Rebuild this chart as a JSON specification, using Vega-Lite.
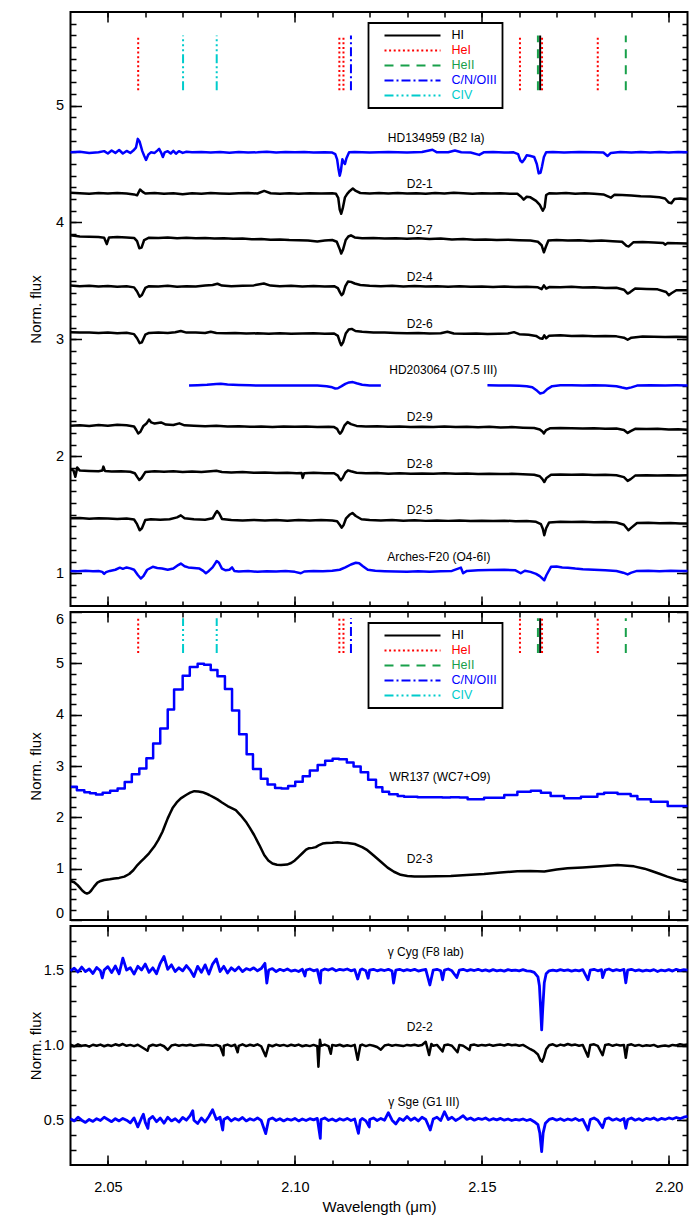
{
"$schema": "https://vega.github.io/schema/vega-lite/v6.json",
"background": "white",
"padding": {"left": 27.5, "top": 10, "right": 5, "bottom": 5},
"config": {
  "font": "Liberation Sans",
  "view": {"stroke": "black", "strokeWidth": 2},
  "axis": {"domain": false, "grid": false, "tickColor": "black", "tickWidth": 1.5, "labelColor": "black", "labelFont": "Liberation Sans", "labelFontSize": 14.5, "titleFont": "Liberation Sans", "titleFontSize": 15, "titleFontWeight": "normal", "titleColor": "black", "labelFlush": false},
  "text": {"font": "Liberation Sans", "fontSize": 12, "color": "black"},
  "line": {"strokeJoin": "round"}
},
"datasets": {
"lines": [
{"species":"HeI","wl":2.0581},{"species":"CIV","wl":2.0701},{"species":"CIV","wl":2.0791},{"species":"HeI","wl":2.1119},{"species":"HeI","wl":2.1130},{"species":"C/N/OIII","wl":2.1150},{"species":"HeI","wl":2.1602},{"species":"HeII","wl":2.1650},{"species":"HI","wl":2.1656},{"species":"HeI","wl":2.1661},{"species":"HeI","wl":2.1810},{"species":"HeII","wl":2.1885}
],
"labels1": [
{"label":"HD134959 (B2 Ia)","x":2.1378,"y":4.726},
{"label":"D2-1","x":2.1334,"y":4.331},
{"label":"D2-7","x":2.1334,"y":3.932},
{"label":"D2-4","x":2.1334,"y":3.532},
{"label":"D2-6","x":2.1334,"y":3.134},
{"label":"HD203064 (O7.5 III)","x":2.1397,"y":2.735},
{"label":"D2-9","x":2.1334,"y":2.336},
{"label":"D2-8","x":2.1334,"y":1.938},
{"label":"D2-5","x":2.1334,"y":1.538},
{"label":"Arches-F20 (O4-6I)","x":2.1385,"y":1.139}
],
"labels2": [
{"label":"WR137 (WC7+O9)","x":2.1388,"y":2.792},
{"label":"D2-3","x":2.1334,"y":1.183}
],
"labels3a": [
{"label":"γ Cyg (F8 Iab)","x":2.1350,"y":1.624},
{"label":"γ Sge (G1 III)","x":2.1345,"y":0.624}
],
"labels3b": [
{"label":"D2-2","x":2.1334,"y":1.122}
],
"HD134959": [
{"x":2.0400,"y":4.600},{"x":2.0425,"y":4.605},{"x":2.0450,"y":4.595},{"x":2.0475,"y":4.600},{"x":2.0490,"y":4.610},{"x":2.0500,"y":4.590},{"x":2.0510,"y":4.615},{"x":2.0520,"y":4.595},{"x":2.0530,"y":4.620},{"x":2.0540,"y":4.590},{"x":2.0550,"y":4.612},{"x":2.0560,"y":4.595},{"x":2.0568,"y":4.615},{"x":2.0575,"y":4.640},{"x":2.0580,"y":4.715},{"x":2.0585,"y":4.690},{"x":2.0592,"y":4.610},{"x":2.0597,"y":4.570},{"x":2.0602,"y":4.535},{"x":2.0608,"y":4.580},{"x":2.0615,"y":4.600},{"x":2.0625,"y":4.595},{"x":2.0632,"y":4.615},{"x":2.0637,"y":4.630},{"x":2.0642,"y":4.600},{"x":2.0647,"y":4.560},{"x":2.0652,"y":4.600},{"x":2.0660,"y":4.610},{"x":2.0668,"y":4.590},{"x":2.0675,"y":4.612},{"x":2.0682,"y":4.588},{"x":2.0690,"y":4.610},{"x":2.0700,"y":4.595},{"x":2.0710,"y":4.605},{"x":2.0725,"y":4.600},{"x":2.0750,"y":4.603},{"x":2.0775,"y":4.598},{"x":2.0800,"y":4.602},{"x":2.0825,"y":4.597},{"x":2.0850,"y":4.603},{"x":2.0875,"y":4.598},{"x":2.0900,"y":4.600},{"x":2.0925,"y":4.605},{"x":2.0950,"y":4.598},{"x":2.0975,"y":4.602},{"x":2.1000,"y":4.600},{"x":2.1025,"y":4.603},{"x":2.1050,"y":4.598},{"x":2.1080,"y":4.600},{"x":2.1100,"y":4.598},{"x":2.1108,"y":4.585},{"x":2.1113,"y":4.540},{"x":2.1117,"y":4.450},{"x":2.1120,"y":4.400},{"x":2.1123,"y":4.440},{"x":2.1127,"y":4.540},{"x":2.1130,"y":4.520},{"x":2.1134,"y":4.500},{"x":2.1138,"y":4.550},{"x":2.1145,"y":4.600},{"x":2.1160,"y":4.603},{"x":2.1200,"y":4.598},{"x":2.1250,"y":4.602},{"x":2.1300,"y":4.598},{"x":2.1340,"y":4.603},{"x":2.1368,"y":4.622},{"x":2.1380,"y":4.600},{"x":2.1410,"y":4.600},{"x":2.1428,"y":4.615},{"x":2.1445,"y":4.600},{"x":2.1470,"y":4.598},{"x":2.1493,"y":4.578},{"x":2.1505,"y":4.600},{"x":2.1530,"y":4.602},{"x":2.1560,"y":4.598},{"x":2.1585,"y":4.600},{"x":2.1597,"y":4.585},{"x":2.1603,"y":4.530},{"x":2.1608,"y":4.515},{"x":2.1614,"y":4.540},{"x":2.1620,"y":4.575},{"x":2.1628,"y":4.570},{"x":2.1640,"y":4.560},{"x":2.1647,"y":4.500},{"x":2.1652,"y":4.420},{"x":2.1657,"y":4.425},{"x":2.1661,"y":4.480},{"x":2.1666,"y":4.560},{"x":2.1672,"y":4.600},{"x":2.1690,"y":4.603},{"x":2.1720,"y":4.598},{"x":2.1760,"y":4.602},{"x":2.1800,"y":4.600},{"x":2.1825,"y":4.598},{"x":2.1836,"y":4.568},{"x":2.1845,"y":4.595},{"x":2.1870,"y":4.602},{"x":2.1900,"y":4.598},{"x":2.1925,"y":4.602},{"x":2.1950,"y":4.598},{"x":2.1975,"y":4.603},{"x":2.2000,"y":4.598},{"x":2.2025,"y":4.602},{"x":2.2050,"y":4.600}
],
"D2-1": [
{"x":2.0400,"y":4.255},{"x":2.0425,"y":4.250},{"x":2.0450,"y":4.245},{"x":2.0475,"y":4.252},{"x":2.0500,"y":4.248},{"x":2.0525,"y":4.252},{"x":2.0550,"y":4.247},{"x":2.0570,"y":4.240},{"x":2.0578,"y":4.232},{"x":2.0586,"y":4.282},{"x":2.0593,"y":4.262},{"x":2.0600,"y":4.248},{"x":2.0625,"y":4.252},{"x":2.0650,"y":4.245},{"x":2.0675,"y":4.250},{"x":2.0700,"y":4.242},{"x":2.0725,"y":4.250},{"x":2.0750,"y":4.245},{"x":2.0775,"y":4.252},{"x":2.0800,"y":4.248},{"x":2.0825,"y":4.245},{"x":2.0850,"y":4.250},{"x":2.0875,"y":4.252},{"x":2.0900,"y":4.248},{"x":2.0918,"y":4.270},{"x":2.0935,"y":4.250},{"x":2.0960,"y":4.246},{"x":2.0985,"y":4.250},{"x":2.1010,"y":4.245},{"x":2.1040,"y":4.250},{"x":2.1070,"y":4.247},{"x":2.1100,"y":4.250},{"x":2.1110,"y":4.245},{"x":2.1116,"y":4.210},{"x":2.1120,"y":4.110},{"x":2.1124,"y":4.075},{"x":2.1128,"y":4.120},{"x":2.1134,"y":4.215},{"x":2.1140,"y":4.245},{"x":2.1147,"y":4.270},{"x":2.1155,"y":4.290},{"x":2.1163,"y":4.270},{"x":2.1175,"y":4.252},{"x":2.1200,"y":4.248},{"x":2.1225,"y":4.252},{"x":2.1250,"y":4.247},{"x":2.1275,"y":4.252},{"x":2.1300,"y":4.248},{"x":2.1325,"y":4.250},{"x":2.1350,"y":4.245},{"x":2.1375,"y":4.252},{"x":2.1400,"y":4.248},{"x":2.1425,"y":4.255},{"x":2.1450,"y":4.250},{"x":2.1475,"y":4.245},{"x":2.1500,"y":4.250},{"x":2.1525,"y":4.248},{"x":2.1550,"y":4.250},{"x":2.1575,"y":4.245},{"x":2.1595,"y":4.245},{"x":2.1605,"y":4.220},{"x":2.1612,"y":4.195},{"x":2.1620,"y":4.220},{"x":2.1630,"y":4.215},{"x":2.1645,"y":4.185},{"x":2.1655,"y":4.150},{"x":2.1663,"y":4.100},{"x":2.1668,"y":4.130},{"x":2.1672,"y":4.235},{"x":2.1680,"y":4.250},{"x":2.1700,"y":4.248},{"x":2.1725,"y":4.252},{"x":2.1750,"y":4.245},{"x":2.1775,"y":4.250},{"x":2.1800,"y":4.245},{"x":2.1825,"y":4.240},{"x":2.1845,"y":4.212},{"x":2.1855,"y":4.238},{"x":2.1875,"y":4.235},{"x":2.1900,"y":4.230},{"x":2.1925,"y":4.225},{"x":2.1950,"y":4.222},{"x":2.1975,"y":4.215},{"x":2.1990,"y":4.205},{"x":2.2000,"y":4.170},{"x":2.2007,"y":4.165},{"x":2.2015,"y":4.200},{"x":2.2030,"y":4.205},{"x":2.2050,"y":4.200}
],
"D2-7": [
{"x":2.0400,"y":3.890},{"x":2.0425,"y":3.880},{"x":2.0450,"y":3.878},{"x":2.0475,"y":3.875},{"x":2.0490,"y":3.870},{"x":2.0497,"y":3.815},{"x":2.0503,"y":3.872},{"x":2.0525,"y":3.875},{"x":2.0550,"y":3.872},{"x":2.0570,"y":3.868},{"x":2.0578,"y":3.840},{"x":2.0584,"y":3.780},{"x":2.0590,"y":3.785},{"x":2.0597,"y":3.850},{"x":2.0610,"y":3.870},{"x":2.0635,"y":3.868},{"x":2.0660,"y":3.872},{"x":2.0685,"y":3.866},{"x":2.0710,"y":3.870},{"x":2.0735,"y":3.865},{"x":2.0760,"y":3.868},{"x":2.0785,"y":3.862},{"x":2.0810,"y":3.865},{"x":2.0835,"y":3.860},{"x":2.0860,"y":3.862},{"x":2.0885,"y":3.856},{"x":2.0910,"y":3.858},{"x":2.0935,"y":3.852},{"x":2.0960,"y":3.855},{"x":2.0985,"y":3.850},{"x":2.1010,"y":3.848},{"x":2.1035,"y":3.845},{"x":2.1060,"y":3.838},{"x":2.1080,"y":3.845},{"x":2.1100,"y":3.850},{"x":2.1112,"y":3.835},{"x":2.1119,"y":3.780},{"x":2.1124,"y":3.735},{"x":2.1129,"y":3.770},{"x":2.1136,"y":3.850},{"x":2.1143,"y":3.880},{"x":2.1150,"y":3.890},{"x":2.1160,"y":3.872},{"x":2.1180,"y":3.865},{"x":2.1210,"y":3.868},{"x":2.1240,"y":3.862},{"x":2.1270,"y":3.866},{"x":2.1300,"y":3.860},{"x":2.1330,"y":3.865},{"x":2.1360,"y":3.858},{"x":2.1390,"y":3.862},{"x":2.1420,"y":3.855},{"x":2.1450,"y":3.858},{"x":2.1480,"y":3.852},{"x":2.1510,"y":3.855},{"x":2.1540,"y":3.850},{"x":2.1570,"y":3.852},{"x":2.1600,"y":3.848},{"x":2.1630,"y":3.845},{"x":2.1650,"y":3.835},{"x":2.1660,"y":3.805},{"x":2.1666,"y":3.745},{"x":2.1671,"y":3.790},{"x":2.1678,"y":3.845},{"x":2.1700,"y":3.850},{"x":2.1730,"y":3.845},{"x":2.1760,"y":3.848},{"x":2.1790,"y":3.842},{"x":2.1820,"y":3.845},{"x":2.1850,"y":3.840},{"x":2.1875,"y":3.835},{"x":2.1887,"y":3.800},{"x":2.1893,"y":3.795},{"x":2.1905,"y":3.830},{"x":2.1930,"y":3.832},{"x":2.1960,"y":3.828},{"x":2.1985,"y":3.825},{"x":2.1990,"y":3.810},{"x":2.1997,"y":3.825},{"x":2.2020,"y":3.822},{"x":2.2050,"y":3.820}
],
"D2-4": [
{"x":2.0400,"y":3.460},{"x":2.0425,"y":3.455},{"x":2.0450,"y":3.458},{"x":2.0475,"y":3.452},{"x":2.0500,"y":3.456},{"x":2.0525,"y":3.450},{"x":2.0550,"y":3.455},{"x":2.0570,"y":3.445},{"x":2.0578,"y":3.410},{"x":2.0585,"y":3.365},{"x":2.0591,"y":3.380},{"x":2.0600,"y":3.440},{"x":2.0610,"y":3.455},{"x":2.0635,"y":3.452},{"x":2.0660,"y":3.458},{"x":2.0685,"y":3.450},{"x":2.0710,"y":3.455},{"x":2.0735,"y":3.452},{"x":2.0760,"y":3.460},{"x":2.0780,"y":3.465},{"x":2.0793,"y":3.476},{"x":2.0805,"y":3.460},{"x":2.0830,"y":3.455},{"x":2.0860,"y":3.458},{"x":2.0890,"y":3.462},{"x":2.0917,"y":3.478},{"x":2.0935,"y":3.460},{"x":2.0960,"y":3.455},{"x":2.0990,"y":3.458},{"x":2.1020,"y":3.452},{"x":2.1050,"y":3.456},{"x":2.1080,"y":3.452},{"x":2.1105,"y":3.455},{"x":2.1115,"y":3.438},{"x":2.1121,"y":3.400},{"x":2.1125,"y":3.378},{"x":2.1129,"y":3.392},{"x":2.1135,"y":3.455},{"x":2.1142,"y":3.495},{"x":2.1150,"y":3.492},{"x":2.1160,"y":3.478},{"x":2.1175,"y":3.465},{"x":2.1200,"y":3.458},{"x":2.1230,"y":3.455},{"x":2.1260,"y":3.458},{"x":2.1290,"y":3.452},{"x":2.1320,"y":3.456},{"x":2.1350,"y":3.452},{"x":2.1380,"y":3.455},{"x":2.1410,"y":3.450},{"x":2.1440,"y":3.454},{"x":2.1470,"y":3.450},{"x":2.1500,"y":3.453},{"x":2.1530,"y":3.448},{"x":2.1560,"y":3.452},{"x":2.1590,"y":3.448},{"x":2.1620,"y":3.450},{"x":2.1650,"y":3.445},{"x":2.1660,"y":3.430},{"x":2.1666,"y":3.462},{"x":2.1672,"y":3.435},{"x":2.1680,"y":3.448},{"x":2.1710,"y":3.446},{"x":2.1740,"y":3.450},{"x":2.1770,"y":3.444},{"x":2.1800,"y":3.446},{"x":2.1830,"y":3.440},{"x":2.1860,"y":3.442},{"x":2.1880,"y":3.425},{"x":2.1890,"y":3.392},{"x":2.1897,"y":3.405},{"x":2.1910,"y":3.435},{"x":2.1940,"y":3.432},{"x":2.1970,"y":3.428},{"x":2.1993,"y":3.405},{"x":2.2000,"y":3.378},{"x":2.2007,"y":3.395},{"x":2.2020,"y":3.420},{"x":2.2050,"y":3.420}
],
"D2-6": [
{"x":2.0400,"y":3.062},{"x":2.0425,"y":3.058},{"x":2.0450,"y":3.060},{"x":2.0475,"y":3.055},{"x":2.0500,"y":3.058},{"x":2.0525,"y":3.052},{"x":2.0550,"y":3.056},{"x":2.0570,"y":3.045},{"x":2.0578,"y":3.010},{"x":2.0585,"y":2.968},{"x":2.0591,"y":2.975},{"x":2.0600,"y":3.040},{"x":2.0610,"y":3.055},{"x":2.0635,"y":3.058},{"x":2.0660,"y":3.055},{"x":2.0680,"y":3.062},{"x":2.0695,"y":3.072},{"x":2.0710,"y":3.058},{"x":2.0735,"y":3.060},{"x":2.0760,"y":3.055},{"x":2.0775,"y":3.065},{"x":2.0790,"y":3.055},{"x":2.0815,"y":3.052},{"x":2.0840,"y":3.055},{"x":2.0870,"y":3.050},{"x":2.0900,"y":3.052},{"x":2.0930,"y":3.048},{"x":2.0960,"y":3.052},{"x":2.0990,"y":3.048},{"x":2.1020,"y":3.050},{"x":2.1050,"y":3.052},{"x":2.1080,"y":3.048},{"x":2.1105,"y":3.050},{"x":2.1115,"y":3.030},{"x":2.1120,"y":2.980},{"x":2.1124,"y":2.950},{"x":2.1129,"y":2.975},{"x":2.1136,"y":3.050},{"x":2.1144,"y":3.085},{"x":2.1152,"y":3.090},{"x":2.1162,"y":3.072},{"x":2.1180,"y":3.065},{"x":2.1210,"y":3.060},{"x":2.1240,"y":3.058},{"x":2.1270,"y":3.055},{"x":2.1300,"y":3.052},{"x":2.1330,"y":3.055},{"x":2.1360,"y":3.050},{"x":2.1390,"y":3.052},{"x":2.1408,"y":3.065},{"x":2.1425,"y":3.050},{"x":2.1455,"y":3.048},{"x":2.1485,"y":3.050},{"x":2.1515,"y":3.046},{"x":2.1545,"y":3.048},{"x":2.1570,"y":3.050},{"x":2.1586,"y":3.062},{"x":2.1600,"y":3.045},{"x":2.1625,"y":3.040},{"x":2.1645,"y":3.030},{"x":2.1655,"y":3.010},{"x":2.1662,"y":3.005},{"x":2.1667,"y":3.035},{"x":2.1672,"y":3.010},{"x":2.1680,"y":3.032},{"x":2.1710,"y":3.035},{"x":2.1740,"y":3.030},{"x":2.1770,"y":3.032},{"x":2.1800,"y":3.028},{"x":2.1830,"y":3.030},{"x":2.1860,"y":3.026},{"x":2.1880,"y":3.015},{"x":2.1890,"y":2.997},{"x":2.1900,"y":3.015},{"x":2.1930,"y":3.025},{"x":2.1960,"y":3.022},{"x":2.1990,"y":3.020},{"x":2.2020,"y":3.022},{"x":2.2050,"y":3.020}
],
"HD203064": [
{"seg":"a","x":2.0717,"y":2.605},{"seg":"a","x":2.0740,"y":2.608},{"seg":"a","x":2.0765,"y":2.612},{"seg":"a","x":2.0790,"y":2.618},{"seg":"a","x":2.0802,"y":2.620},{"seg":"a","x":2.0820,"y":2.615},{"seg":"a","x":2.0850,"y":2.610},{"seg":"a","x":2.0880,"y":2.607},{"seg":"a","x":2.0910,"y":2.606},{"seg":"a","x":2.0940,"y":2.605},{"seg":"a","x":2.0970,"y":2.606},{"seg":"a","x":2.1000,"y":2.605},{"seg":"a","x":2.1030,"y":2.606},{"seg":"a","x":2.1060,"y":2.605},{"seg":"a","x":2.1085,"y":2.600},{"seg":"a","x":2.1100,"y":2.590},{"seg":"a","x":2.1108,"y":2.580},{"seg":"a","x":2.1115,"y":2.582},{"seg":"a","x":2.1125,"y":2.600},{"seg":"a","x":2.1135,"y":2.620},{"seg":"a","x":2.1145,"y":2.632},{"seg":"a","x":2.1155,"y":2.635},{"seg":"a","x":2.1165,"y":2.625},{"seg":"a","x":2.1180,"y":2.612},{"seg":"a","x":2.1200,"y":2.606},{"seg":"a","x":2.1230,"y":2.605},
{"seg":"b","x":2.1515,"y":2.607},{"seg":"b","x":2.1545,"y":2.606},{"seg":"b","x":2.1575,"y":2.605},{"seg":"b","x":2.1600,"y":2.604},{"seg":"b","x":2.1620,"y":2.600},{"seg":"b","x":2.1635,"y":2.590},{"seg":"b","x":2.1648,"y":2.560},{"seg":"b","x":2.1656,"y":2.537},{"seg":"b","x":2.1665,"y":2.545},{"seg":"b","x":2.1675,"y":2.575},{"seg":"b","x":2.1688,"y":2.600},{"seg":"b","x":2.1710,"y":2.607},{"seg":"b","x":2.1740,"y":2.608},{"seg":"b","x":2.1770,"y":2.606},{"seg":"b","x":2.1800,"y":2.607},{"seg":"b","x":2.1830,"y":2.605},{"seg":"b","x":2.1860,"y":2.600},{"seg":"b","x":2.1875,"y":2.588},{"seg":"b","x":2.1887,"y":2.580},{"seg":"b","x":2.1900,"y":2.590},{"seg":"b","x":2.1915,"y":2.605},{"seg":"b","x":2.1950,"y":2.607},{"seg":"b","x":2.1990,"y":2.606},{"seg":"b","x":2.2020,"y":2.607},{"seg":"b","x":2.2050,"y":2.606}
],
"D2-9": [
{"x":2.0400,"y":2.262},{"x":2.0425,"y":2.265},{"x":2.0450,"y":2.260},{"x":2.0475,"y":2.268},{"x":2.0500,"y":2.262},{"x":2.0525,"y":2.270},{"x":2.0550,"y":2.265},{"x":2.0570,"y":2.255},{"x":2.0576,"y":2.225},{"x":2.0581,"y":2.195},{"x":2.0587,"y":2.210},{"x":2.0595,"y":2.260},{"x":2.0603,"y":2.280},{"x":2.0610,"y":2.314},{"x":2.0616,"y":2.290},{"x":2.0625,"y":2.280},{"x":2.0642,"y":2.290},{"x":2.0655,"y":2.272},{"x":2.0675,"y":2.268},{"x":2.0691,"y":2.282},{"x":2.0705,"y":2.265},{"x":2.0730,"y":2.262},{"x":2.0760,"y":2.258},{"x":2.0790,"y":2.262},{"x":2.0820,"y":2.255},{"x":2.0850,"y":2.258},{"x":2.0880,"y":2.252},{"x":2.0910,"y":2.255},{"x":2.0940,"y":2.250},{"x":2.0970,"y":2.255},{"x":2.1000,"y":2.252},{"x":2.1030,"y":2.256},{"x":2.1060,"y":2.250},{"x":2.1090,"y":2.254},{"x":2.1105,"y":2.250},{"x":2.1113,"y":2.235},{"x":2.1118,"y":2.205},{"x":2.1121,"y":2.194},{"x":2.1126,"y":2.215},{"x":2.1133,"y":2.265},{"x":2.1141,"y":2.293},{"x":2.1150,"y":2.275},{"x":2.1165,"y":2.260},{"x":2.1190,"y":2.255},{"x":2.1220,"y":2.258},{"x":2.1250,"y":2.252},{"x":2.1280,"y":2.256},{"x":2.1310,"y":2.250},{"x":2.1340,"y":2.254},{"x":2.1370,"y":2.250},{"x":2.1400,"y":2.256},{"x":2.1430,"y":2.250},{"x":2.1460,"y":2.254},{"x":2.1490,"y":2.248},{"x":2.1520,"y":2.252},{"x":2.1550,"y":2.246},{"x":2.1580,"y":2.250},{"x":2.1610,"y":2.245},{"x":2.1640,"y":2.242},{"x":2.1655,"y":2.230},{"x":2.1662,"y":2.212},{"x":2.1666,"y":2.196},{"x":2.1672,"y":2.225},{"x":2.1682,"y":2.240},{"x":2.1710,"y":2.242},{"x":2.1740,"y":2.240},{"x":2.1770,"y":2.238},{"x":2.1800,"y":2.240},{"x":2.1830,"y":2.236},{"x":2.1860,"y":2.238},{"x":2.1880,"y":2.225},{"x":2.1890,"y":2.200},{"x":2.1898,"y":2.215},{"x":2.1910,"y":2.235},{"x":2.1940,"y":2.233},{"x":2.1970,"y":2.235},{"x":2.2000,"y":2.230},{"x":2.2025,"y":2.232},{"x":2.2050,"y":2.228}
],
"D2-8": [
{"x":2.0400,"y":1.885},{"x":2.0408,"y":1.880},{"x":2.0413,"y":1.825},{"x":2.0418,"y":1.905},{"x":2.0425,"y":1.878},{"x":2.0450,"y":1.875},{"x":2.0475,"y":1.872},{"x":2.0485,"y":1.878},{"x":2.0488,"y":1.912},{"x":2.0492,"y":1.875},{"x":2.0510,"y":1.870},{"x":2.0535,"y":1.873},{"x":2.0560,"y":1.868},{"x":2.0572,"y":1.855},{"x":2.0579,"y":1.820},{"x":2.0584,"y":1.798},{"x":2.0590,"y":1.815},{"x":2.0600,"y":1.865},{"x":2.0625,"y":1.872},{"x":2.0650,"y":1.868},{"x":2.0675,"y":1.872},{"x":2.0700,"y":1.866},{"x":2.0725,"y":1.870},{"x":2.0750,"y":1.865},{"x":2.0775,"y":1.872},{"x":2.0790,"y":1.876},{"x":2.0805,"y":1.866},{"x":2.0830,"y":1.862},{"x":2.0860,"y":1.865},{"x":2.0890,"y":1.860},{"x":2.0920,"y":1.862},{"x":2.0950,"y":1.858},{"x":2.0980,"y":1.860},{"x":2.1005,"y":1.855},{"x":2.1018,"y":1.858},{"x":2.1021,"y":1.815},{"x":2.1025,"y":1.856},{"x":2.1050,"y":1.860},{"x":2.1080,"y":1.855},{"x":2.1105,"y":1.855},{"x":2.1115,"y":1.835},{"x":2.1120,"y":1.808},{"x":2.1123,"y":1.795},{"x":2.1128,"y":1.815},{"x":2.1135,"y":1.860},{"x":2.1142,"y":1.880},{"x":2.1150,"y":1.872},{"x":2.1165,"y":1.860},{"x":2.1190,"y":1.855},{"x":2.1220,"y":1.858},{"x":2.1250,"y":1.852},{"x":2.1280,"y":1.856},{"x":2.1310,"y":1.850},{"x":2.1340,"y":1.854},{"x":2.1370,"y":1.850},{"x":2.1400,"y":1.855},{"x":2.1430,"y":1.850},{"x":2.1460,"y":1.853},{"x":2.1490,"y":1.848},{"x":2.1520,"y":1.852},{"x":2.1550,"y":1.848},{"x":2.1580,"y":1.850},{"x":2.1610,"y":1.846},{"x":2.1640,"y":1.842},{"x":2.1655,"y":1.830},{"x":2.1662,"y":1.805},{"x":2.1667,"y":1.780},{"x":2.1673,"y":1.815},{"x":2.1685,"y":1.842},{"x":2.1710,"y":1.845},{"x":2.1740,"y":1.842},{"x":2.1770,"y":1.845},{"x":2.1800,"y":1.840},{"x":2.1830,"y":1.842},{"x":2.1860,"y":1.838},{"x":2.1880,"y":1.822},{"x":2.1890,"y":1.790},{"x":2.1898,"y":1.805},{"x":2.1910,"y":1.835},{"x":2.1940,"y":1.838},{"x":2.1970,"y":1.835},{"x":2.2000,"y":1.838},{"x":2.2025,"y":1.836},{"x":2.2050,"y":1.838}
],
"D2-5": [
{"x":2.0400,"y":1.470},{"x":2.0425,"y":1.472},{"x":2.0450,"y":1.466},{"x":2.0475,"y":1.470},{"x":2.0500,"y":1.468},{"x":2.0525,"y":1.464},{"x":2.0550,"y":1.468},{"x":2.0570,"y":1.460},{"x":2.0578,"y":1.420},{"x":2.0585,"y":1.368},{"x":2.0591,"y":1.385},{"x":2.0600,"y":1.455},{"x":2.0615,"y":1.462},{"x":2.0640,"y":1.458},{"x":2.0665,"y":1.462},{"x":2.0685,"y":1.478},{"x":2.0695,"y":1.495},{"x":2.0705,"y":1.470},{"x":2.0730,"y":1.462},{"x":2.0760,"y":1.458},{"x":2.0780,"y":1.470},{"x":2.0788,"y":1.515},{"x":2.0792,"y":1.532},{"x":2.0797,"y":1.515},{"x":2.0805,"y":1.465},{"x":2.0830,"y":1.455},{"x":2.0860,"y":1.452},{"x":2.0890,"y":1.456},{"x":2.0920,"y":1.452},{"x":2.0950,"y":1.455},{"x":2.0980,"y":1.450},{"x":2.1010,"y":1.456},{"x":2.1040,"y":1.452},{"x":2.1070,"y":1.455},{"x":2.1100,"y":1.452},{"x":2.1113,"y":1.445},{"x":2.1120,"y":1.415},{"x":2.1125,"y":1.390},{"x":2.1130,"y":1.410},{"x":2.1137,"y":1.470},{"x":2.1146,"y":1.500},{"x":2.1154,"y":1.515},{"x":2.1163,"y":1.490},{"x":2.1178,"y":1.462},{"x":2.1200,"y":1.455},{"x":2.1230,"y":1.452},{"x":2.1260,"y":1.455},{"x":2.1290,"y":1.450},{"x":2.1320,"y":1.454},{"x":2.1350,"y":1.448},{"x":2.1380,"y":1.452},{"x":2.1410,"y":1.448},{"x":2.1440,"y":1.452},{"x":2.1470,"y":1.446},{"x":2.1500,"y":1.450},{"x":2.1530,"y":1.446},{"x":2.1560,"y":1.450},{"x":2.1590,"y":1.445},{"x":2.1620,"y":1.446},{"x":2.1645,"y":1.440},{"x":2.1658,"y":1.420},{"x":2.1663,"y":1.380},{"x":2.1667,"y":1.325},{"x":2.1672,"y":1.385},{"x":2.1680,"y":1.435},{"x":2.1710,"y":1.440},{"x":2.1740,"y":1.438},{"x":2.1770,"y":1.440},{"x":2.1800,"y":1.436},{"x":2.1830,"y":1.438},{"x":2.1860,"y":1.434},{"x":2.1880,"y":1.415},{"x":2.1892,"y":1.368},{"x":2.1900,"y":1.390},{"x":2.1915,"y":1.430},{"x":2.1945,"y":1.432},{"x":2.1975,"y":1.428},{"x":2.2005,"y":1.430},{"x":2.2030,"y":1.426},{"x":2.2050,"y":1.425}
],
"ArchesF20": [
{"x":2.0400,"y":1.020},{"x":2.0420,"y":1.018},{"x":2.0440,"y":1.022},{"x":2.0460,"y":1.018},{"x":2.0475,"y":1.020},{"x":2.0485,"y":1.012},{"x":2.0490,"y":0.995},{"x":2.0495,"y":1.010},{"x":2.0505,"y":1.020},{"x":2.0520,"y":1.030},{"x":2.0532,"y":1.048},{"x":2.0540,"y":1.038},{"x":2.0550,"y":1.050},{"x":2.0560,"y":1.042},{"x":2.0570,"y":1.030},{"x":2.0580,"y":0.985},{"x":2.0588,"y":0.955},{"x":2.0595,"y":0.975},{"x":2.0605,"y":1.030},{"x":2.0620,"y":1.055},{"x":2.0632,"y":1.045},{"x":2.0645,"y":1.040},{"x":2.0660,"y":1.030},{"x":2.0675,"y":1.040},{"x":2.0688,"y":1.070},{"x":2.0695,"y":1.083},{"x":2.0705,"y":1.060},{"x":2.0715,"y":1.050},{"x":2.0730,"y":1.045},{"x":2.0745,"y":1.040},{"x":2.0755,"y":1.020},{"x":2.0762,"y":1.000},{"x":2.0770,"y":1.020},{"x":2.0780,"y":1.050},{"x":2.0787,"y":1.085},{"x":2.0791,"y":1.105},{"x":2.0797,"y":1.090},{"x":2.0805,"y":1.040},{"x":2.0815,"y":1.025},{"x":2.0825,"y":1.030},{"x":2.0832,"y":1.050},{"x":2.0838,"y":1.020},{"x":2.0850,"y":1.015},{"x":2.0875,"y":1.020},{"x":2.0900,"y":1.012},{"x":2.0925,"y":1.018},{"x":2.0950,"y":1.015},{"x":2.0975,"y":1.020},{"x":2.1000,"y":1.012},{"x":2.1016,"y":1.000},{"x":2.1025,"y":1.015},{"x":2.1050,"y":1.020},{"x":2.1075,"y":1.018},{"x":2.1100,"y":1.022},{"x":2.1120,"y":1.030},{"x":2.1135,"y":1.050},{"x":2.1150,"y":1.075},{"x":2.1163,"y":1.090},{"x":2.1172,"y":1.085},{"x":2.1182,"y":1.060},{"x":2.1195,"y":1.030},{"x":2.1215,"y":1.022},{"x":2.1240,"y":1.018},{"x":2.1270,"y":1.015},{"x":2.1300,"y":1.012},{"x":2.1330,"y":1.018},{"x":2.1360,"y":1.012},{"x":2.1390,"y":1.018},{"x":2.1420,"y":1.020},{"x":2.1444,"y":1.048},{"x":2.1450,"y":1.000},{"x":2.1460,"y":1.020},{"x":2.1490,"y":1.025},{"x":2.1520,"y":1.028},{"x":2.1560,"y":1.030},{"x":2.1590,"y":1.025},{"x":2.1604,"y":1.000},{"x":2.1615,"y":1.022},{"x":2.1630,"y":1.012},{"x":2.1645,"y":0.995},{"x":2.1655,"y":0.975},{"x":2.1662,"y":0.955},{"x":2.1667,"y":0.940},{"x":2.1673,"y":0.985},{"x":2.1685,"y":1.055},{"x":2.1700,"y":1.058},{"x":2.1715,"y":1.050},{"x":2.1730,"y":1.048},{"x":2.1750,"y":1.040},{"x":2.1770,"y":1.035},{"x":2.1800,"y":1.030},{"x":2.1830,"y":1.025},{"x":2.1860,"y":1.020},{"x":2.1878,"y":1.005},{"x":2.1890,"y":0.990},{"x":2.1900,"y":1.005},{"x":2.1915,"y":1.020},{"x":2.1945,"y":1.022},{"x":2.1975,"y":1.018},{"x":2.2005,"y":1.022},{"x":2.2030,"y":1.020},{"x":2.2050,"y":1.020}
],
"WR137": [
{"x":2.0401,"y":2.595},{"x":2.0417,"y":2.53},{"x":2.0437,"y":2.49},{"x":2.0452,"y":2.47},{"x":2.0468,"y":2.444},{"x":2.0486,"y":2.477},{"x":2.0506,"y":2.516},{"x":2.0526,"y":2.56},{"x":2.0545,"y":2.69},{"x":2.0564,"y":2.84},{"x":2.0584,"y":2.95},{"x":2.0603,"y":3.15},{"x":2.0621,"y":3.44},{"x":2.0640,"y":3.73},{"x":2.0660,"y":4.10},{"x":2.0677,"y":4.49},{"x":2.0700,"y":4.76},{"x":2.0719,"y":4.93},{"x":2.0740,"y":4.99},{"x":2.0757,"y":4.97},{"x":2.0775,"y":4.87},{"x":2.0793,"y":4.75},{"x":2.0813,"y":4.50},{"x":2.0832,"y":4.08},{"x":2.0851,"y":3.62},{"x":2.0871,"y":3.23},{"x":2.0888,"y":2.94},{"x":2.0909,"y":2.75},{"x":2.0927,"y":2.64},{"x":2.0947,"y":2.57},{"x":2.0964,"y":2.56},{"x":2.0982,"y":2.61},{"x":2.1001,"y":2.695},{"x":2.1021,"y":2.80},{"x":2.1040,"y":2.91},{"x":2.1061,"y":3.02},{"x":2.1081,"y":3.10},{"x":2.1101,"y":3.14},{"x":2.1118,"y":3.13},{"x":2.1139,"y":3.07},{"x":2.1157,"y":2.99},{"x":2.1176,"y":2.88},{"x":2.1196,"y":2.73},{"x":2.1217,"y":2.585},{"x":2.1234,"y":2.50},{"x":2.1252,"y":2.45},{"x":2.1275,"y":2.415},{"x":2.1292,"y":2.40},{"x":2.1310,"y":2.40},{"x":2.1328,"y":2.39},{"x":2.1350,"y":2.39},{"x":2.1372,"y":2.39},{"x":2.1394,"y":2.385},{"x":2.1416,"y":2.39},{"x":2.1440,"y":2.385},{"x":2.1462,"y":2.35},{"x":2.1484,"y":2.35},{"x":2.1506,"y":2.38},{"x":2.1533,"y":2.38},{"x":2.1560,"y":2.435},{"x":2.1578,"y":2.435},{"x":2.1595,"y":2.50},{"x":2.1613,"y":2.50},{"x":2.1631,"y":2.52},{"x":2.1658,"y":2.48},{"x":2.1684,"y":2.415},{"x":2.1702,"y":2.415},{"x":2.1720,"y":2.37},{"x":2.1742,"y":2.37},{"x":2.1765,"y":2.40},{"x":2.1787,"y":2.40},{"x":2.1809,"y":2.455},{"x":2.1827,"y":2.48},{"x":2.1845,"y":2.48},{"x":2.1863,"y":2.455},{"x":2.1880,"y":2.455},{"x":2.1898,"y":2.415},{"x":2.1916,"y":2.35},{"x":2.1934,"y":2.35},{"x":2.1952,"y":2.305},{"x":2.1975,"y":2.305},{"x":2.1997,"y":2.22},{"x":2.2023,"y":2.22},{"x":2.2050,"y":2.22}
],
"D2-3": [
{"x":2.0400,"y":0.760},{"x":2.0410,"y":0.735},{"x":2.0419,"y":0.680},{"x":2.0426,"y":0.620},{"x":2.0432,"y":0.570},{"x":2.0438,"y":0.535},{"x":2.0444,"y":0.515},{"x":2.0450,"y":0.535},{"x":2.0455,"y":0.570},{"x":2.0463,"y":0.650},{"x":2.0472,"y":0.727},{"x":2.0481,"y":0.760},{"x":2.0490,"y":0.780},{"x":2.0505,"y":0.795},{"x":2.0517,"y":0.810},{"x":2.0530,"y":0.820},{"x":2.0544,"y":0.845},{"x":2.0557,"y":0.896},{"x":2.0568,"y":0.970},{"x":2.0579,"y":1.070},{"x":2.0588,"y":1.135},{"x":2.0597,"y":1.200},{"x":2.0610,"y":1.300},{"x":2.0624,"y":1.430},{"x":2.0635,"y":1.560},{"x":2.0646,"y":1.720},{"x":2.0653,"y":1.850},{"x":2.0660,"y":1.980},{"x":2.0667,"y":2.090},{"x":2.0673,"y":2.180},{"x":2.0684,"y":2.290},{"x":2.0695,"y":2.370},{"x":2.0709,"y":2.435},{"x":2.0720,"y":2.480},{"x":2.0731,"y":2.510},{"x":2.0742,"y":2.505},{"x":2.0753,"y":2.490},{"x":2.0762,"y":2.465},{"x":2.0771,"y":2.435},{"x":2.0782,"y":2.395},{"x":2.0793,"y":2.350},{"x":2.0805,"y":2.290},{"x":2.0820,"y":2.220},{"x":2.0831,"y":2.180},{"x":2.0842,"y":2.140},{"x":2.0855,"y":2.040},{"x":2.0869,"y":1.915},{"x":2.0880,"y":1.790},{"x":2.0891,"y":1.656},{"x":2.0905,"y":1.460},{"x":2.0918,"y":1.266},{"x":2.0929,"y":1.160},{"x":2.0940,"y":1.100},{"x":2.0952,"y":1.075},{"x":2.0963,"y":1.070},{"x":2.0979,"y":1.080},{"x":2.0990,"y":1.110},{"x":2.1000,"y":1.160},{"x":2.1010,"y":1.230},{"x":2.1020,"y":1.300},{"x":2.1030,"y":1.370},{"x":2.1038,"y":1.400},{"x":2.1047,"y":1.405},{"x":2.1056,"y":1.420},{"x":2.1065,"y":1.460},{"x":2.1074,"y":1.490},{"x":2.1085,"y":1.500},{"x":2.1100,"y":1.505},{"x":2.1114,"y":1.515},{"x":2.1128,"y":1.505},{"x":2.1141,"y":1.500},{"x":2.1160,"y":1.480},{"x":2.1180,"y":1.420},{"x":2.1194,"y":1.360},{"x":2.1210,"y":1.260},{"x":2.1230,"y":1.136},{"x":2.1248,"y":1.020},{"x":2.1265,"y":0.940},{"x":2.1283,"y":0.880},{"x":2.1301,"y":0.857},{"x":2.1320,"y":0.848},{"x":2.1346,"y":0.845},{"x":2.1380,"y":0.850},{"x":2.1417,"y":0.857},{"x":2.1460,"y":0.875},{"x":2.1506,"y":0.896},{"x":2.1550,"y":0.925},{"x":2.1595,"y":0.950},{"x":2.1630,"y":0.955},{"x":2.1667,"y":0.945},{"x":2.1700,"y":0.985},{"x":2.1729,"y":1.007},{"x":2.1770,"y":1.025},{"x":2.1818,"y":1.045},{"x":2.1863,"y":1.070},{"x":2.1907,"y":1.045},{"x":2.1935,"y":1.000},{"x":2.1952,"y":0.960},{"x":2.1975,"y":0.900},{"x":2.1996,"y":0.845},{"x":2.2020,"y":0.790},{"x":2.2045,"y":0.746},{"x":2.2050,"y":0.740}
],
"gCyg": [
{"x":2.040,"y":1.500},{"x":2.041,"y":1.518},{"x":2.042,"y":1.492},{"x":2.043,"y":1.525},{"x":2.044,"y":1.495},{"x":2.045,"y":1.512},{"x":2.046,"y":1.482},{"x":2.047,"y":1.522},{"x":2.048,"y":1.500},{"x":2.0485,"y":1.452},{"x":2.049,"y":1.505},{"x":2.050,"y":1.528},{"x":2.051,"y":1.488},{"x":2.052,"y":1.532},{"x":2.053,"y":1.480},{"x":2.054,"y":1.585},{"x":2.055,"y":1.505},{"x":2.056,"y":1.520},{"x":2.057,"y":1.478},{"x":2.058,"y":1.530},{"x":2.059,"y":1.505},{"x":2.060,"y":1.545},{"x":2.061,"y":1.490},{"x":2.062,"y":1.520},{"x":2.063,"y":1.480},{"x":2.064,"y":1.550},{"x":2.065,"y":1.596},{"x":2.066,"y":1.510},{"x":2.067,"y":1.540},{"x":2.068,"y":1.495},{"x":2.069,"y":1.520},{"x":2.070,"y":1.500},{"x":2.071,"y":1.535},{"x":2.072,"y":1.505},{"x":2.073,"y":1.462},{"x":2.074,"y":1.530},{"x":2.075,"y":1.490},{"x":2.076,"y":1.540},{"x":2.077,"y":1.478},{"x":2.078,"y":1.545},{"x":2.079,"y":1.580},{"x":2.080,"y":1.495},{"x":2.081,"y":1.530},{"x":2.082,"y":1.485},{"x":2.083,"y":1.520},{"x":2.084,"y":1.500},{"x":2.085,"y":1.525},{"x":2.086,"y":1.495},{"x":2.087,"y":1.515},{"x":2.088,"y":1.505},{"x":2.089,"y":1.520},{"x":2.090,"y":1.500},{"x":2.091,"y":1.515},{"x":2.092,"y":1.550},{"x":2.0925,"y":1.418},{"x":2.093,"y":1.505},{"x":2.094,"y":1.515},{"x":2.095,"y":1.495},{"x":2.096,"y":1.510},{"x":2.097,"y":1.500},{"x":2.098,"y":1.512},{"x":2.099,"y":1.498},{"x":2.100,"y":1.505},{"x":2.101,"y":1.495},{"x":2.102,"y":1.510},{"x":2.1027,"y":1.465},{"x":2.103,"y":1.505},{"x":2.104,"y":1.512},{"x":2.105,"y":1.500},{"x":2.106,"y":1.508},{"x":2.1068,"y":1.418},{"x":2.107,"y":1.500},{"x":2.108,"y":1.512},{"x":2.109,"y":1.505},{"x":2.110,"y":1.515},{"x":2.111,"y":1.500},{"x":2.112,"y":1.510},{"x":2.113,"y":1.505},{"x":2.114,"y":1.512},{"x":2.115,"y":1.500},{"x":2.116,"y":1.508},{"x":2.1168,"y":1.445},{"x":2.1175,"y":1.505},{"x":2.118,"y":1.512},{"x":2.119,"y":1.500},{"x":2.1196,"y":1.450},{"x":2.120,"y":1.505},{"x":2.121,"y":1.510},{"x":2.122,"y":1.500},{"x":2.123,"y":1.508},{"x":2.124,"y":1.502},{"x":2.125,"y":1.510},{"x":2.126,"y":1.498},{"x":2.1264,"y":1.418},{"x":2.127,"y":1.505},{"x":2.128,"y":1.510},{"x":2.129,"y":1.500},{"x":2.130,"y":1.508},{"x":2.131,"y":1.502},{"x":2.132,"y":1.510},{"x":2.133,"y":1.498},{"x":2.134,"y":1.505},{"x":2.135,"y":1.510},{"x":2.1361,"y":1.405},{"x":2.137,"y":1.505},{"x":2.138,"y":1.510},{"x":2.139,"y":1.500},{"x":2.1395,"y":1.440},{"x":2.140,"y":1.505},{"x":2.141,"y":1.512},{"x":2.142,"y":1.500},{"x":2.1433,"y":1.455},{"x":2.144,"y":1.505},{"x":2.145,"y":1.510},{"x":2.146,"y":1.500},{"x":2.147,"y":1.508},{"x":2.148,"y":1.502},{"x":2.149,"y":1.510},{"x":2.150,"y":1.500},{"x":2.151,"y":1.506},{"x":2.152,"y":1.498},{"x":2.153,"y":1.508},{"x":2.154,"y":1.500},{"x":2.155,"y":1.505},{"x":2.156,"y":1.498},{"x":2.157,"y":1.508},{"x":2.158,"y":1.502},{"x":2.159,"y":1.505},{"x":2.160,"y":1.500},{"x":2.161,"y":1.508},{"x":2.162,"y":1.500},{"x":2.163,"y":1.498},{"x":2.164,"y":1.490},{"x":2.1650,"y":1.460},{"x":2.1654,"y":1.400},{"x":2.1657,"y":1.260},{"x":2.1660,"y":1.105},{"x":2.1663,"y":1.250},{"x":2.1667,"y":1.420},{"x":2.1672,"y":1.480},{"x":2.168,"y":1.500},{"x":2.169,"y":1.505},{"x":2.170,"y":1.500},{"x":2.171,"y":1.508},{"x":2.172,"y":1.502},{"x":2.173,"y":1.506},{"x":2.174,"y":1.498},{"x":2.175,"y":1.505},{"x":2.176,"y":1.500},{"x":2.177,"y":1.508},{"x":2.1784,"y":1.440},{"x":2.179,"y":1.505},{"x":2.180,"y":1.510},{"x":2.181,"y":1.500},{"x":2.182,"y":1.508},{"x":2.1823,"y":1.455},{"x":2.183,"y":1.505},{"x":2.184,"y":1.512},{"x":2.185,"y":1.500},{"x":2.186,"y":1.508},{"x":2.187,"y":1.502},{"x":2.188,"y":1.510},{"x":2.1885,"y":1.420},{"x":2.189,"y":1.505},{"x":2.190,"y":1.510},{"x":2.191,"y":1.500},{"x":2.192,"y":1.506},{"x":2.193,"y":1.498},{"x":2.194,"y":1.505},{"x":2.195,"y":1.500},{"x":2.196,"y":1.508},{"x":2.197,"y":1.495},{"x":2.198,"y":1.505},{"x":2.199,"y":1.500},{"x":2.200,"y":1.508},{"x":2.201,"y":1.498},{"x":2.202,"y":1.510},{"x":2.203,"y":1.502},{"x":2.204,"y":1.508},{"x":2.205,"y":1.505}
],
"D2-2": [
{"x":2.040,"y":1.005},{"x":2.041,"y":0.995},{"x":2.042,"y":1.008},{"x":2.043,"y":0.998},{"x":2.044,"y":1.002},{"x":2.045,"y":0.992},{"x":2.046,"y":1.005},{"x":2.047,"y":0.998},{"x":2.048,"y":1.006},{"x":2.049,"y":0.995},{"x":2.050,"y":1.003},{"x":2.051,"y":0.997},{"x":2.052,"y":1.008},{"x":2.053,"y":1.000},{"x":2.054,"y":1.010},{"x":2.055,"y":0.998},{"x":2.056,"y":1.004},{"x":2.057,"y":0.996},{"x":2.058,"y":1.005},{"x":2.059,"y":0.990},{"x":2.0606,"y":0.965},{"x":2.061,"y":0.995},{"x":2.062,"y":1.005},{"x":2.063,"y":0.998},{"x":2.064,"y":1.006},{"x":2.065,"y":0.995},{"x":2.066,"y":0.970},{"x":2.067,"y":1.000},{"x":2.068,"y":1.006},{"x":2.069,"y":0.998},{"x":2.070,"y":1.004},{"x":2.071,"y":1.000},{"x":2.072,"y":1.005},{"x":2.073,"y":0.998},{"x":2.074,"y":1.002},{"x":2.075,"y":1.005},{"x":2.076,"y":1.003},{"x":2.077,"y":1.002},{"x":2.078,"y":0.998},{"x":2.079,"y":1.004},{"x":2.080,"y":0.995},{"x":2.0809,"y":0.935},{"x":2.081,"y":0.998},{"x":2.082,"y":1.006},{"x":2.083,"y":0.996},{"x":2.084,"y":1.005},{"x":2.0847,"y":0.955},{"x":2.085,"y":0.998},{"x":2.086,"y":1.008},{"x":2.087,"y":0.996},{"x":2.088,"y":1.005},{"x":2.089,"y":0.998},{"x":2.090,"y":1.008},{"x":2.091,"y":0.995},{"x":2.0922,"y":0.928},{"x":2.093,"y":1.004},{"x":2.094,"y":0.995},{"x":2.095,"y":1.006},{"x":2.096,"y":0.998},{"x":2.097,"y":1.004},{"x":2.098,"y":0.996},{"x":2.099,"y":1.005},{"x":2.100,"y":0.998},{"x":2.101,"y":1.006},{"x":2.102,"y":0.995},{"x":2.103,"y":1.002},{"x":2.104,"y":0.996},{"x":2.105,"y":1.004},{"x":2.106,"y":0.995},{"x":2.1063,"y":0.858},{"x":2.1067,"y":1.038},{"x":2.107,"y":0.998},{"x":2.108,"y":1.006},{"x":2.109,"y":0.996},{"x":2.1096,"y":0.945},{"x":2.110,"y":1.004},{"x":2.111,"y":0.998},{"x":2.112,"y":1.005},{"x":2.113,"y":0.995},{"x":2.114,"y":1.002},{"x":2.115,"y":0.996},{"x":2.116,"y":1.004},{"x":2.1168,"y":0.905},{"x":2.1175,"y":1.000},{"x":2.118,"y":1.006},{"x":2.119,"y":0.996},{"x":2.120,"y":1.004},{"x":2.121,"y":0.998},{"x":2.122,"y":0.990},{"x":2.123,"y":0.972},{"x":2.124,"y":1.000},{"x":2.125,"y":1.006},{"x":2.126,"y":0.998},{"x":2.127,"y":1.004},{"x":2.128,"y":1.000},{"x":2.129,"y":0.996},{"x":2.130,"y":1.004},{"x":2.131,"y":1.000},{"x":2.132,"y":1.005},{"x":2.133,"y":0.998},{"x":2.134,"y":1.003},{"x":2.135,"y":1.025},{"x":2.1359,"y":0.936},{"x":2.1365,"y":1.010},{"x":2.137,"y":0.998},{"x":2.138,"y":1.004},{"x":2.1395,"y":0.960},{"x":2.140,"y":1.002},{"x":2.141,"y":1.006},{"x":2.142,"y":0.998},{"x":2.1435,"y":0.955},{"x":2.144,"y":1.004},{"x":2.145,"y":0.998},{"x":2.1467,"y":0.970},{"x":2.147,"y":1.002},{"x":2.148,"y":1.006},{"x":2.149,"y":0.998},{"x":2.150,"y":1.004},{"x":2.151,"y":1.000},{"x":2.152,"y":1.006},{"x":2.153,"y":0.998},{"x":2.154,"y":1.003},{"x":2.155,"y":1.006},{"x":2.156,"y":1.000},{"x":2.157,"y":1.008},{"x":2.158,"y":1.002},{"x":2.159,"y":1.005},{"x":2.160,"y":0.998},{"x":2.161,"y":1.004},{"x":2.162,"y":0.990},{"x":2.163,"y":0.975},{"x":2.164,"y":0.962},{"x":2.1650,"y":0.940},{"x":2.1657,"y":0.900},{"x":2.1661,"y":0.892},{"x":2.1666,"y":0.920},{"x":2.1672,"y":0.975},{"x":2.168,"y":1.002},{"x":2.169,"y":1.008},{"x":2.170,"y":0.996},{"x":2.171,"y":1.006},{"x":2.172,"y":1.000},{"x":2.173,"y":1.010},{"x":2.174,"y":1.002},{"x":2.175,"y":1.006},{"x":2.176,"y":0.998},{"x":2.177,"y":1.004},{"x":2.1784,"y":0.925},{"x":2.179,"y":1.004},{"x":2.180,"y":1.008},{"x":2.181,"y":0.998},{"x":2.1823,"y":0.935},{"x":2.183,"y":1.004},{"x":2.184,"y":1.008},{"x":2.185,"y":0.998},{"x":2.186,"y":1.006},{"x":2.187,"y":1.000},{"x":2.188,"y":1.004},{"x":2.1885,"y":0.918},{"x":2.189,"y":1.002},{"x":2.190,"y":1.008},{"x":2.191,"y":0.998},{"x":2.192,"y":1.004},{"x":2.193,"y":0.996},{"x":2.194,"y":1.002},{"x":2.195,"y":0.998},{"x":2.196,"y":1.004},{"x":2.197,"y":0.992},{"x":2.198,"y":0.996},{"x":2.199,"y":1.000},{"x":2.200,"y":0.995},{"x":2.201,"y":1.004},{"x":2.202,"y":1.000},{"x":2.203,"y":1.008},{"x":2.204,"y":1.004},{"x":2.205,"y":1.006}
],
"gSge": [
{"x":2.040,"y":0.510},{"x":2.041,"y":0.495},{"x":2.042,"y":0.520},{"x":2.043,"y":0.500},{"x":2.044,"y":0.485},{"x":2.045,"y":0.505},{"x":2.046,"y":0.492},{"x":2.047,"y":0.510},{"x":2.048,"y":0.498},{"x":2.049,"y":0.520},{"x":2.050,"y":0.505},{"x":2.051,"y":0.490},{"x":2.052,"y":0.510},{"x":2.053,"y":0.495},{"x":2.054,"y":0.512},{"x":2.055,"y":0.500},{"x":2.056,"y":0.482},{"x":2.057,"y":0.515},{"x":2.058,"y":0.455},{"x":2.059,"y":0.515},{"x":2.0595,"y":0.540},{"x":2.060,"y":0.485},{"x":2.0607,"y":0.445},{"x":2.061,"y":0.505},{"x":2.062,"y":0.525},{"x":2.063,"y":0.490},{"x":2.064,"y":0.515},{"x":2.065,"y":0.480},{"x":2.066,"y":0.520},{"x":2.067,"y":0.495},{"x":2.068,"y":0.510},{"x":2.069,"y":0.488},{"x":2.070,"y":0.518},{"x":2.071,"y":0.500},{"x":2.072,"y":0.530},{"x":2.0727,"y":0.564},{"x":2.073,"y":0.500},{"x":2.074,"y":0.478},{"x":2.075,"y":0.515},{"x":2.076,"y":0.488},{"x":2.077,"y":0.525},{"x":2.078,"y":0.570},{"x":2.079,"y":0.505},{"x":2.080,"y":0.520},{"x":2.0807,"y":0.434},{"x":2.081,"y":0.505},{"x":2.082,"y":0.520},{"x":2.083,"y":0.495},{"x":2.084,"y":0.512},{"x":2.085,"y":0.500},{"x":2.086,"y":0.518},{"x":2.087,"y":0.495},{"x":2.088,"y":0.510},{"x":2.089,"y":0.500},{"x":2.090,"y":0.515},{"x":2.091,"y":0.498},{"x":2.0922,"y":0.410},{"x":2.093,"y":0.505},{"x":2.094,"y":0.515},{"x":2.095,"y":0.498},{"x":2.096,"y":0.510},{"x":2.097,"y":0.495},{"x":2.098,"y":0.508},{"x":2.099,"y":0.500},{"x":2.100,"y":0.512},{"x":2.101,"y":0.495},{"x":2.102,"y":0.508},{"x":2.103,"y":0.498},{"x":2.104,"y":0.510},{"x":2.105,"y":0.502},{"x":2.106,"y":0.512},{"x":2.1068,"y":0.378},{"x":2.107,"y":0.505},{"x":2.108,"y":0.515},{"x":2.109,"y":0.498},{"x":2.110,"y":0.508},{"x":2.111,"y":0.495},{"x":2.112,"y":0.510},{"x":2.113,"y":0.500},{"x":2.114,"y":0.512},{"x":2.115,"y":0.498},{"x":2.116,"y":0.508},{"x":2.1170,"y":0.412},{"x":2.1175,"y":0.500},{"x":2.118,"y":0.512},{"x":2.119,"y":0.495},{"x":2.1199,"y":0.455},{"x":2.120,"y":0.505},{"x":2.121,"y":0.515},{"x":2.122,"y":0.498},{"x":2.123,"y":0.512},{"x":2.124,"y":0.500},{"x":2.1250,"y":0.550},{"x":2.126,"y":0.500},{"x":2.127,"y":0.475},{"x":2.128,"y":0.512},{"x":2.129,"y":0.498},{"x":2.130,"y":0.525},{"x":2.131,"y":0.500},{"x":2.132,"y":0.515},{"x":2.133,"y":0.495},{"x":2.134,"y":0.520},{"x":2.135,"y":0.505},{"x":2.1362,"y":0.434},{"x":2.137,"y":0.508},{"x":2.138,"y":0.520},{"x":2.139,"y":0.498},{"x":2.140,"y":0.557},{"x":2.141,"y":0.505},{"x":2.142,"y":0.520},{"x":2.143,"y":0.498},{"x":2.144,"y":0.512},{"x":2.145,"y":0.530},{"x":2.146,"y":0.505},{"x":2.147,"y":0.515},{"x":2.148,"y":0.500},{"x":2.149,"y":0.512},{"x":2.150,"y":0.505},{"x":2.151,"y":0.515},{"x":2.152,"y":0.500},{"x":2.153,"y":0.510},{"x":2.154,"y":0.502},{"x":2.155,"y":0.512},{"x":2.156,"y":0.500},{"x":2.157,"y":0.508},{"x":2.158,"y":0.498},{"x":2.159,"y":0.505},{"x":2.160,"y":0.500},{"x":2.161,"y":0.508},{"x":2.162,"y":0.498},{"x":2.163,"y":0.505},{"x":2.164,"y":0.490},{"x":2.1650,"y":0.470},{"x":2.1655,"y":0.415},{"x":2.1660,"y":0.290},{"x":2.1664,"y":0.415},{"x":2.1670,"y":0.480},{"x":2.168,"y":0.505},{"x":2.169,"y":0.512},{"x":2.170,"y":0.500},{"x":2.171,"y":0.510},{"x":2.172,"y":0.498},{"x":2.173,"y":0.508},{"x":2.174,"y":0.500},{"x":2.175,"y":0.512},{"x":2.176,"y":0.498},{"x":2.177,"y":0.505},{"x":2.1784,"y":0.434},{"x":2.179,"y":0.505},{"x":2.180,"y":0.515},{"x":2.181,"y":0.500},{"x":2.1823,"y":0.450},{"x":2.183,"y":0.508},{"x":2.184,"y":0.515},{"x":2.185,"y":0.500},{"x":2.186,"y":0.510},{"x":2.187,"y":0.498},{"x":2.188,"y":0.512},{"x":2.1885,"y":0.446},{"x":2.189,"y":0.505},{"x":2.190,"y":0.515},{"x":2.191,"y":0.500},{"x":2.192,"y":0.510},{"x":2.193,"y":0.498},{"x":2.194,"y":0.512},{"x":2.195,"y":0.505},{"x":2.196,"y":0.515},{"x":2.197,"y":0.500},{"x":2.198,"y":0.512},{"x":2.199,"y":0.505},{"x":2.200,"y":0.515},{"x":2.201,"y":0.508},{"x":2.202,"y":0.518},{"x":2.203,"y":0.510},{"x":2.204,"y":0.520},{"x":2.205,"y":0.525}
]
},
"spacing": 6,
"bounds": "flush",
"resolve": {"scale": {"color": "independent", "strokeDash": "independent"}, "legend": {"color": "independent", "strokeDash": "independent"}},
"vconcat": [
{
 "width": 617, "height": 594,
 "resolve": {"axis": {"x": "independent", "y": "independent"}},
 "layer": [
  {"data": {"name": "HD134959"}, "mark": {"type": "line", "color": "#0000ff", "strokeWidth": 2.5},
   "encoding": {
    "x": {"field": "x", "type": "quantitative", "scale": {"domain": [2.04, 2.205], "nice": false, "zero": false}, "axis": {"orient": "bottom", "values": [2.05, 2.1, 2.15, 2.2], "tickSize": -10, "labels": false, "title": null}},
    "y": {"field": "y", "type": "quantitative", "scale": {"domain": [0.72, 5.8], "nice": false, "zero": false}, "axis": {"orient": "left", "values": [1, 2, 3, 4, 5], "format": "d", "tickSize": -11, "labelPadding": 18, "title": "Norm. flux", "titleX": -35, "titleY": 297, "titleAngle": 270, "titleBaseline": "middle", "titleAlign": "center"}}}},
  {"data": {"name": "D2-1"}, "mark": {"type": "line", "color": "black", "strokeWidth": 2.5},
   "encoding": {
    "x": {"field": "x", "type": "quantitative", "axis": {"orient": "bottom", "values": [2.05,2.06,2.07,2.08,2.09,2.1,2.11,2.12,2.13,2.14,2.15,2.16,2.17,2.18,2.19,2.2], "tickSize": -5, "labels": false, "title": null}},
    "y": {"field": "y", "type": "quantitative", "axis": {"orient": "left", "values": [0.8,0.9,1,1.1,1.2,1.3,1.4,1.5,1.6,1.7,1.8,1.9,2,2.1,2.2,2.3,2.4,2.5,2.6,2.7,2.8,2.9,3,3.1,3.2,3.3,3.4,3.5,3.6,3.7,3.8,3.9,4,4.1,4.2,4.3,4.4,4.5,4.6,4.7,4.8,4.9,5,5.1,5.2,5.3,5.4,5.5,5.6,5.7], "tickSize": -5.5, "labels": false, "title": null}}}},
  {"data": {"name": "D2-7"}, "mark": {"type": "line", "color": "black", "strokeWidth": 2.5},
   "encoding": {
    "x": {"field": "x", "type": "quantitative", "axis": {"orient": "top", "values": [2.05, 2.1, 2.15, 2.2], "tickSize": -10, "labels": false, "title": null}},
    "y": {"field": "y", "type": "quantitative", "axis": {"orient": "right", "values": [1, 2, 3, 4, 5], "tickSize": -11, "labels": false, "title": null}}}},
  {"data": {"name": "D2-4"}, "mark": {"type": "line", "color": "black", "strokeWidth": 2.5},
   "encoding": {
    "x": {"field": "x", "type": "quantitative", "axis": {"orient": "top", "values": [2.05,2.06,2.07,2.08,2.09,2.1,2.11,2.12,2.13,2.14,2.15,2.16,2.17,2.18,2.19,2.2], "tickSize": -5, "labels": false, "title": null}},
    "y": {"field": "y", "type": "quantitative", "axis": {"orient": "right", "values": [0.8,0.9,1,1.1,1.2,1.3,1.4,1.5,1.6,1.7,1.8,1.9,2,2.1,2.2,2.3,2.4,2.5,2.6,2.7,2.8,2.9,3,3.1,3.2,3.3,3.4,3.5,3.6,3.7,3.8,3.9,4,4.1,4.2,4.3,4.4,4.5,4.6,4.7,4.8,4.9,5,5.1,5.2,5.3,5.4,5.5,5.6,5.7], "tickSize": -5.5, "labels": false, "title": null}}}},
  {"data": {"name": "D2-6"}, "mark": {"type": "line", "color": "black", "strokeWidth": 2.5},
   "encoding": {"x": {"field": "x", "type": "quantitative", "axis": null}, "y": {"field": "y", "type": "quantitative", "axis": null}}},
  {"data": {"name": "HD203064"}, "mark": {"type": "line", "color": "#0000ff", "strokeWidth": 2.5},
   "encoding": {"x": {"field": "x", "type": "quantitative", "axis": null}, "y": {"field": "y", "type": "quantitative", "axis": null}, "detail": {"field": "seg"}}},
  {"data": {"name": "D2-9"}, "mark": {"type": "line", "color": "black", "strokeWidth": 2.5},
   "encoding": {"x": {"field": "x", "type": "quantitative", "axis": null}, "y": {"field": "y", "type": "quantitative", "axis": null}}},
  {"data": {"name": "D2-8"}, "mark": {"type": "line", "color": "black", "strokeWidth": 2.5},
   "encoding": {"x": {"field": "x", "type": "quantitative", "axis": null}, "y": {"field": "y", "type": "quantitative", "axis": null}}},
  {"data": {"name": "D2-5"}, "mark": {"type": "line", "color": "black", "strokeWidth": 2.5},
   "encoding": {"x": {"field": "x", "type": "quantitative", "axis": null}, "y": {"field": "y", "type": "quantitative", "axis": null}}},
  {"data": {"name": "ArchesF20"}, "mark": {"type": "line", "color": "#0000ff", "strokeWidth": 2.5},
   "encoding": {"x": {"field": "x", "type": "quantitative", "axis": null}, "y": {"field": "y", "type": "quantitative", "axis": null}}},
  {"data": {"name": "lines"}, "mark": {"type": "rule", "strokeWidth": 2},
   "encoding": {
    "x": {"field": "wl", "type": "quantitative", "axis": null},
    "y": {"datum": 5.13, "axis": null},
    "y2": {"datum": 5.6},
    "color": {"field": "species", "type": "nominal", "scale": {"domain": ["HI","HeI","HeII","C/N/OIII","CIV"], "range": ["#000000","#ff0000","#18a04a","#0000ff","#00cccc"]},
      "legend": {"orient": "none", "legendX": 298, "legendY": 11, "title": null, "symbolType": "stroke", "symbolSize": 3136, "symbolStrokeWidth": 2, "clipHeight": 14.75, "rowPadding": 0, "padding": 5, "symbolOffset": 10, "labelOffset": 10, "labelFontSize": 12.5, "labelFont": "Liberation Sans", "strokeColor": "black", "fillColor": "white",
        "encode": {"legend": {"update": {"strokeWidth": {"value": 1.8}}}, "labels": {"update": {"fill": {"signal": "datum.value === 'HeI' ? '#ff0000' : datum.value === 'HeII' ? '#18a04a' : datum.value === 'C/N/OIII' ? '#0000ff' : datum.value === 'CIV' ? '#00cccc' : '#000000'"}}}}}},
    "strokeDash": {"field": "species", "type": "nominal", "scale": {"domain": ["HI","HeI","HeII","C/N/OIII","CIV"], "range": [[1,0],[2,2.6],[9,7],[9,3,2,3],[9,3,2,3,2,3,2,3]]}}}},
  {"data": {"name": "labels1"}, "mark": {"type": "text", "align": "center", "baseline": "middle"},
   "encoding": {"x": {"field": "x", "type": "quantitative", "axis": null}, "y": {"field": "y", "type": "quantitative", "axis": null}, "text": {"field": "label"}}}
 ]
},
{
 "width": 617, "height": 308,
 "resolve": {"axis": {"x": "independent", "y": "independent"}},
 "layer": [
  {"data": {"name": "WR137"}, "mark": {"type": "line", "color": "#0000ff", "strokeWidth": 2.5, "interpolate": "step-after"},
   "encoding": {
    "x": {"field": "x", "type": "quantitative", "scale": {"domain": [2.04, 2.205], "nice": false, "zero": false}, "axis": {"orient": "bottom", "values": [2.05, 2.1, 2.15, 2.2], "tickSize": -10, "labels": false, "title": null}},
    "y": {"field": "y", "type": "quantitative", "scale": {"domain": [0, 6], "nice": false, "zero": false}, "axis": {"orient": "left", "values": [0, 1, 2, 3, 4, 5, 6], "format": "d", "tickSize": -11, "labelPadding": 18, "labelFlush": true, "title": "Norm. flux", "titleX": -35, "titleY": 154, "titleAngle": 270, "titleBaseline": "middle", "titleAlign": "center"}}}},
  {"data": {"name": "D2-3"}, "mark": {"type": "line", "color": "black", "strokeWidth": 2.5},
   "encoding": {
    "x": {"field": "x", "type": "quantitative", "axis": {"orient": "bottom", "values": [2.05,2.06,2.07,2.08,2.09,2.1,2.11,2.12,2.13,2.14,2.15,2.16,2.17,2.18,2.19,2.2], "tickSize": -5, "labels": false, "title": null}},
    "y": {"field": "y", "type": "quantitative", "axis": {"orient": "left", "values": [0.2,0.4,0.6,0.8,1,1.2,1.4,1.6,1.8,2,2.2,2.4,2.6,2.8,3,3.2,3.4,3.6,3.8,4,4.2,4.4,4.6,4.8,5,5.2,5.4,5.6,5.8], "tickSize": -5.5, "labels": false, "title": null}}}},
  {"data": {"name": "labels2"}, "mark": {"type": "text", "align": "center", "baseline": "middle"},
   "encoding": {
    "x": {"field": "x", "type": "quantitative", "axis": {"orient": "top", "values": [2.05, 2.1, 2.15, 2.2], "tickSize": -10, "labels": false, "title": null}},
    "y": {"field": "y", "type": "quantitative", "axis": {"orient": "right", "values": [0, 1, 2, 3, 4, 5, 6], "tickSize": -11, "labels": false, "title": null}},
    "text": {"field": "label"}}},
  {"data": {"name": "lines"}, "mark": {"type": "rule", "strokeWidth": 2},
   "encoding": {
    "x": {"field": "wl", "type": "quantitative", "axis": {"orient": "top", "values": [2.05,2.06,2.07,2.08,2.09,2.1,2.11,2.12,2.13,2.14,2.15,2.16,2.17,2.18,2.19,2.2], "tickSize": -5, "labels": false, "title": null}},
    "y": {"datum": 5.2, "axis": {"orient": "right", "values": [0.2,0.4,0.6,0.8,1,1.2,1.4,1.6,1.8,2,2.2,2.4,2.6,2.8,3,3.2,3.4,3.6,3.8,4,4.2,4.4,4.6,4.8,5,5.2,5.4,5.6,5.8], "tickSize": -5.5, "labels": false, "title": null}},
    "y2": {"datum": 5.88},
    "color": {"field": "species", "type": "nominal", "scale": {"domain": ["HI","HeI","HeII","C/N/OIII","CIV"], "range": ["#000000","#ff0000","#18a04a","#0000ff","#00cccc"]},
      "legend": {"orient": "none", "legendX": 298, "legendY": 11, "title": null, "symbolType": "stroke", "symbolSize": 3136, "symbolStrokeWidth": 2, "clipHeight": 14.75, "rowPadding": 0, "padding": 5, "symbolOffset": 10, "labelOffset": 10, "labelFontSize": 12.5, "labelFont": "Liberation Sans", "strokeColor": "black", "fillColor": "white",
        "encode": {"legend": {"update": {"strokeWidth": {"value": 1.8}}}, "labels": {"update": {"fill": {"signal": "datum.value === 'HeI' ? '#ff0000' : datum.value === 'HeII' ? '#18a04a' : datum.value === 'C/N/OIII' ? '#0000ff' : datum.value === 'CIV' ? '#00cccc' : '#000000'"}}}}}},
    "strokeDash": {"field": "species", "type": "nominal", "scale": {"domain": ["HI","HeI","HeII","C/N/OIII","CIV"], "range": [[1,0],[2,2.6],[9,7],[9,3,2,3],[9,3,2,3,2,3,2,3]]}}}}
 ]
},
{
 "width": 617, "height": 239,
 "resolve": {"axis": {"x": "independent", "y": "independent"}},
 "layer": [
  {"data": {"name": "gCyg"}, "mark": {"type": "line", "color": "#0000ff", "strokeWidth": 2.8},
   "encoding": {
    "x": {"field": "x", "type": "quantitative", "scale": {"domain": [2.04, 2.205], "nice": false, "zero": false}, "axis": {"orient": "bottom", "values": [2.05, 2.1, 2.15, 2.2], "format": ".2f", "ticks": false, "labelPadding": 15.5, "title": "Wavelength (μm)", "titlePadding": 5}},
    "y": {"field": "y", "type": "quantitative", "scale": {"domain": [0.2, 1.8], "nice": false, "zero": false}, "axis": {"orient": "left", "values": [0.5, 1.0, 1.5], "format": ".1f", "tickSize": -11, "labelPadding": 18, "title": "Norm. flux", "titleX": -35, "titleY": 119.5, "titleAngle": 270, "titleBaseline": "middle", "titleAlign": "center"}}}},
  {"data": {"name": "D2-2"}, "mark": {"type": "line", "color": "black", "strokeWidth": 2.5},
   "encoding": {
    "x": {"field": "x", "type": "quantitative", "axis": {"orient": "bottom", "values": [2.05, 2.1, 2.15, 2.2], "tickSize": -10, "labels": false, "title": null}},
    "y": {"field": "y", "type": "quantitative", "axis": {"orient": "left", "values": [0.3,0.4,0.5,0.6,0.7,0.8,0.9,1,1.1,1.2,1.3,1.4,1.5,1.6,1.7], "tickSize": -5.5, "labels": false, "title": null}}}},
  {"data": {"name": "gSge"}, "mark": {"type": "line", "color": "#0000ff", "strokeWidth": 2.8},
   "encoding": {
    "x": {"field": "x", "type": "quantitative", "axis": {"orient": "bottom", "values": [2.05,2.06,2.07,2.08,2.09,2.1,2.11,2.12,2.13,2.14,2.15,2.16,2.17,2.18,2.19,2.2], "tickSize": -5, "labels": false, "title": null}},
    "y": {"field": "y", "type": "quantitative", "axis": {"orient": "right", "values": [0.5, 1.0, 1.5], "tickSize": -11, "labels": false, "title": null}}}},
  {"data": {"name": "labels3a"}, "mark": {"type": "text", "align": "center", "baseline": "middle"},
   "encoding": {
    "x": {"field": "x", "type": "quantitative", "axis": {"orient": "top", "values": [2.05, 2.1, 2.15, 2.2], "tickSize": -10, "labels": false, "title": null}},
    "y": {"field": "y", "type": "quantitative", "axis": {"orient": "right", "values": [0.3,0.4,0.5,0.6,0.7,0.8,0.9,1,1.1,1.2,1.3,1.4,1.5,1.6,1.7], "tickSize": -5.5, "labels": false, "title": null}},
    "text": {"field": "label"}}},
  {"data": {"name": "labels3b"}, "mark": {"type": "text", "align": "center", "baseline": "middle"},
   "encoding": {
    "x": {"field": "x", "type": "quantitative", "axis": {"orient": "top", "values": [2.05,2.06,2.07,2.08,2.09,2.1,2.11,2.12,2.13,2.14,2.15,2.16,2.17,2.18,2.19,2.2], "tickSize": -5, "labels": false, "title": null}},
    "y": {"field": "y", "type": "quantitative", "axis": null},
    "text": {"field": "label"}}}
 ]
}
]
}
